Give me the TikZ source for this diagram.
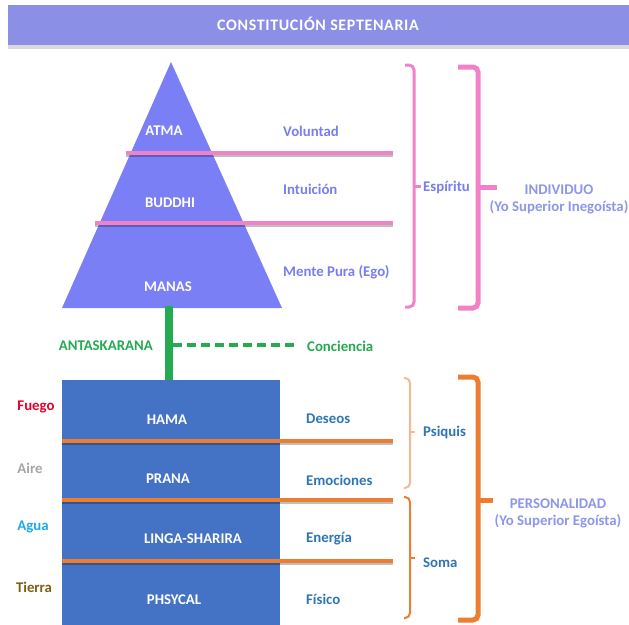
\documentclass[tikz,border=0pt]{standalone}
\usepackage{fontspec}
\setmainfont{Carlito}
\usetikzlibrary{positioning}
\tikzstyle{diagram} = [x = 1pt, y = -1pt]
\definecolor{titleColor}{RGB}{139,143,230}
\definecolor{pyramidColor}{RGB}{123,127,245}
\definecolor{boxColor}{RGB}{68,114,196}
\definecolor{pinkColor}{RGB}{242,130,200}
\definecolor{orangeColor}{RGB}{237,125,49}
\definecolor{lightOrange}{RGB}{244,185,145}
\definecolor{greenColor}{RGB}{36,170,80}
\definecolor{lavenderText}{RGB}{120,126,240}
\definecolor{paleText}{RGB}{140,150,235}
\definecolor{darkBlueText}{RGB}{46,117,182}
\definecolor{fuegoColor}{RGB}{230,0,40}
\definecolor{aireColor}{RGB}{165,165,165}
\definecolor{aguaColor}{RGB}{30,170,230}
\definecolor{tierraColor}{RGB}{125,95,20}
\tikzstyle{labelFont} = [font=\bfseries\fontsize{14.8}{17}\selectfont, inner sep=0pt]
\tikzstyle{layerText} = [labelFont, text=white]
\tikzstyle{spiritText} = [labelFont, text=lavenderText, anchor=west]
\tikzstyle{bodyText} = [labelFont, text=darkBlueText, anchor=west]
\tikzstyle{groupText} = [labelFont, text=paleText, align=center]
\tikzstyle{lineShadow} = [color=black, opacity=0.25, line width=2pt]
\tikzstyle{pinkLine} = [color=pinkColor, line width=4pt]
\tikzstyle{orangeLine} = [color=orangeColor, line width=4pt]
\tikzstyle{braceLine} = [rounded corners = 5pt]
\newcommand{\sepLine}[4]{
  \draw [lineShadow] (#1, #2 + 3) -- (#3, #2 + 3);
  \draw [#4] (#1, #2) -- (#3, #2);
}
\newcommand{\bracket}[7]{
  \draw [braceLine, #7] (#1, #4) -- (#2, #4) -- (#2, #5) -- (#1, #5);
  \draw [#7] (#2, #6) -- (#3, #6);
}

\begin{document}
\begin{tikzpicture}[diagram]
  \useasboundingbox (0,0) rectangle (629,624);
  % title
  \fill [black, opacity=0.15] (8,45) rectangle (629,49);
  \fill [titleColor] (8,5) rectangle (629,45);
  \node [font=\bfseries\fontsize{16}{18}\selectfont\addfontfeature{LetterSpace=4}, text=white] (title) at (318,24) {CONSTITUCIÓN SEPTENARIA};

  % pyramid
  \fill [pyramidColor] (171,62) -- (282,308) -- (62,308) -- cycle;
  \sepLine{126}{153}{393}{pinkLine}
  \sepLine{95}{223}{393}{pinkLine}
  \node [layerText] (atma) at (164,131) {ATMA};
  \node [layerText] (buddhi) at (170,203) {BUDDHI};
  \node [layerText] (manas) at (168,287) {MANAS};
  \node [spiritText] (voluntad) at (283,131) {Voluntad};
  \node [spiritText] (intuicion) at (283,189) {Intuición};
  \node [spiritText] (mente) at (283,272) {Mente Pura (Ego)};
  \bracket{405}{414}{421}{65}{307}{186}{pinkColor, line width=3pt}
  \bracket{458}{478}{497}{67}{308}{187}{pinkColor, line width=5pt}
  \node [spiritText] (espiritu) at (423,187) {Espíritu};
  \node [groupText] (individuo) at (559,199) {INDIVIDUO\\(Yo Superior Inegoísta)};

  % antaskarana
  \coordinate (pyramidBase) at (169,306);
  \coordinate (boxTop) at (169,382);
  \coordinate (antaMid) at (173,345);
  \node [labelFont, text=greenColor, anchor=east] (antaskarana) at (153,346) {ANTASKARANA};
  \node [labelFont, text=greenColor, anchor=west] (conciencia) at (307,346) {Conciencia};
  \draw [greenColor, line width=7.5pt] (pyramidBase) -- (boxTop);
  \draw [greenColor, line width=3.5pt, dash pattern=on 9pt off 5pt] (antaMid) -- ([xshift=-12pt]conciencia.west |- antaMid);

  % body
  \fill [boxColor] (62,380) rectangle (280,630);
  \sepLine{62}{441}{393}{orangeLine}
  \sepLine{62}{500}{393}{orangeLine}
  \sepLine{62}{561}{393}{orangeLine}
  \node [layerText] (hama) at (167,420) {HAMA};
  \node [layerText] (prana) at (168,479) {PRANA};
  \node [layerText] (linga) at (193,539) {LINGA-SHARIRA};
  \node [layerText] (phsycal) at (174,600) {PHSYCAL};
  \node [labelFont, text=fuegoColor] (fuego) at (36,407) {Fuego};
  \node [labelFont, text=aireColor] (aire) at (30,468) {Aire};
  \node [labelFont, text=aguaColor] (agua) at (33,527) {Agua};
  \node [labelFont, text=tierraColor] (tierra) at (34,587) {Tierra};
  \node [bodyText] (deseos) at (306,419) {Deseos};
  \node [bodyText] (emociones) at (306,480) {Emociones};
  \node [bodyText] (energia) at (306,539) {Energía};
  \node [bodyText] (fisico) at (306,599) {Físico};
  \bracket{404}{410}{415}{378}{488}{432}{lightOrange, line width=2pt}
  \bracket{404}{410}{415}{497}{618}{558}{orangeColor, line width=2pt}
  \bracket{458}{478}{493}{377}{620}{500}{orangeColor, line width=5pt}
  \node [bodyText] (psiquis) at (423,432) {Psiquis};
  \node [bodyText] (soma) at (423,563) {Soma};
  \node [groupText] (personalidad) at (558,513) {PERSONALIDAD\\(Yo Superior Egoísta)};
\end{tikzpicture}
\end{document}
